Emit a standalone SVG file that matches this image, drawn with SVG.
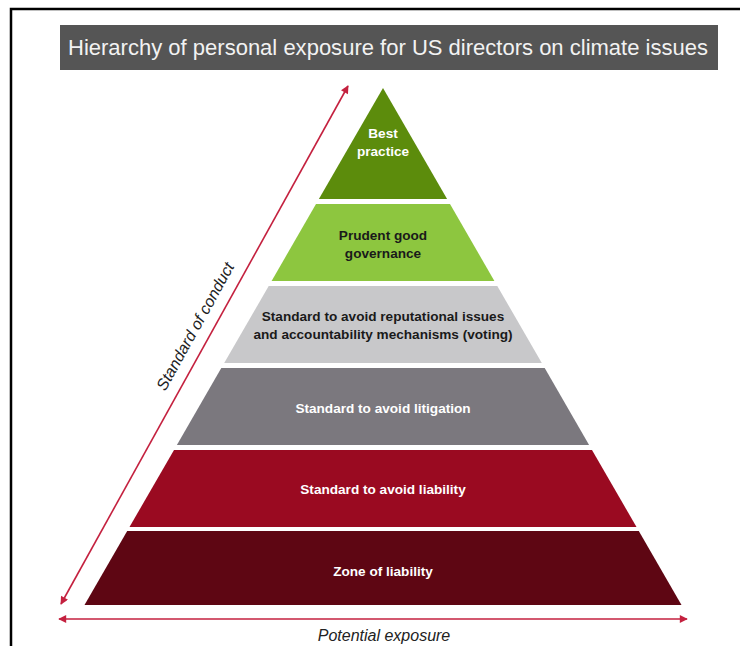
<svg xmlns="http://www.w3.org/2000/svg" width="740" height="646" viewBox="0 0 740 646">
  <defs>
    <marker id="ah" viewBox="0 0 10 10" refX="9" refY="5" markerWidth="9" markerHeight="8" markerUnits="userSpaceOnUse" orient="auto-start-reverse">
      <path d="M0,0 L10,5 L0,10 z" fill="#c4213f"/>
    </marker>
    <style>
      .lbl { font-family: "Liberation Sans", Arial, sans-serif; font-weight: bold; font-size: 13.6px; text-anchor: middle; }
      .w { fill: #ffffff; }
      .k { fill: #1a1a1a; }
      .axis { stroke: #c4213f; stroke-width: 1.6; fill: none; }
      .axt { font-family: "Liberation Sans", Arial, sans-serif; font-style: italic; font-size: 16px; fill: #222222; text-anchor: middle; }
    </style>
  </defs>
  <rect x="0" y="0" width="740" height="646" fill="#ffffff"/>
  <path d="M11,646 L11,9 L740,9" fill="none" stroke="#000000" stroke-width="2.5"/>

  <g id="title">
    <rect x="60" y="25" width="658" height="45" fill="#555555"/>
    <text x="388" y="54.5" font-family="Liberation Sans, Arial, sans-serif" font-size="22.5" fill="#f2f2f2" text-anchor="middle" textLength="640" lengthAdjust="spacingAndGlyphs">Hierarchy of personal exposure for US directors on climate issues</text>
  </g>

  <g id="tier1">
    <polygon points="383,88 447.1,199 318.9,199" fill="#5c8c0c"/>
    <text class="lbl w" x="383" y="138">Best</text>
    <text class="lbl w" x="383" y="156">practice</text>
  </g>
  <g id="tier2">
    <polygon points="316,204 450,204 494.4,281 271.6,281" fill="#8dc63f"/>
    <text class="lbl k" x="383" y="240">Prudent good</text>
    <text class="lbl k" x="383" y="258">governance</text>
  </g>
  <g id="tier3">
    <polygon points="268.7,286 497.3,286 541.8,363 224.2,363" fill="#c8c8ca"/>
    <text class="lbl k" x="383" y="321">Standard to avoid reputational issues</text>
    <text class="lbl k" x="383" y="338.5">and accountability mechanisms (voting)</text>
  </g>
  <g id="tier4">
    <polygon points="221.3,368 544.7,368 589.1,445 176.9,445" fill="#7b787e"/>
    <text class="lbl w" x="383" y="413">Standard to avoid litigation</text>
  </g>
  <g id="tier5">
    <polygon points="174,450 592,450 636.5,527 129.5,527" fill="#9a0a21"/>
    <text class="lbl w" x="383" y="494">Standard to avoid liability</text>
  </g>
  <g id="tier6">
    <polygon points="127.2,531 638.8,531 681.5,605 84.5,605" fill="#5e0613"/>
    <text class="lbl w" x="383" y="576">Zone of liability</text>
  </g>

  <g id="connectors">
    <line class="axis" x1="61" y1="604" x2="348" y2="86" marker-start="url(#ah)" marker-end="url(#ah)"/>
    <line class="axis" x1="59" y1="619" x2="687" y2="619" marker-start="url(#ah)" marker-end="url(#ah)"/>
  </g>
  <g id="axis-labels">
    <text class="axt" transform="translate(200,329) rotate(-61)">Standard of conduct</text>
    <text class="axt" x="384" y="641">Potential exposure</text>
  </g>
</svg>
